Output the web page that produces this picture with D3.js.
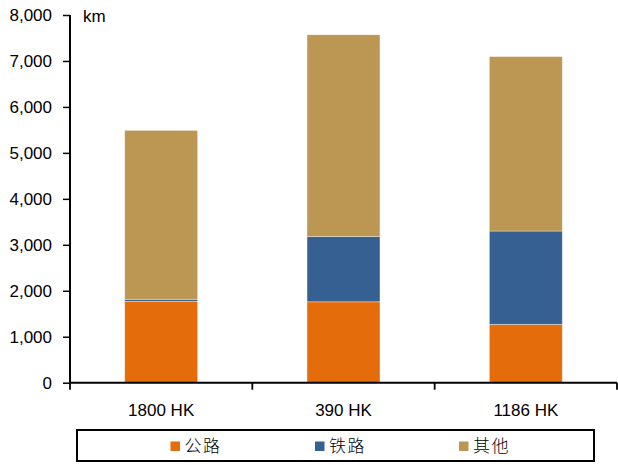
<!DOCTYPE html>
<html>
<head>
<meta charset="utf-8">
<script src="https://cdn.jsdelivr.net/npm/d3@7/dist/d3.min.js"></script>
<style>
  html, body { margin: 0; padding: 0; background: #fff; }
  svg { display: block; }
  text { font-family: "Liberation Sans", Arial, sans-serif; fill: #000; }
</style>
</head>
<body>
<svg id="chart" width="618" height="465"></svg>
<script>
// Route length by mode (km) for three projects
const categories = ["1800 HK", "390 HK", "1186 HK"];
const seriesNames = ["公路", "铁路", "其他"];
const road  = [1770, 1760, 1270];
const rail  = [45, 1420, 2030];
const other = [3675, 4390, 3795];
const yTicks = [0, 1000, 2000, 3000, 4000, 5000, 6000, 7000, 8000];
const colors = ["#E46C0A", "#366092", "#BC9653"];

const svg = d3.select("#chart");
const plotLeft = 70, plotRight = 617, plotTop = 15, plotBottom = 382.7;
const labelSize = 17;

const x = d3.scaleBand().domain(categories).range([plotLeft, plotRight])
  .paddingInner(0.6).paddingOuter(0.3);
const y = d3.scaleLinear().domain([0, 8000]).range([plotBottom, plotTop]);

const rows = categories.map((c, i) => ({ cat: c, road: road[i], rail: rail[i], other: other[i] }));
const stack = d3.stack().keys(["road", "rail", "other"])(rows);

// stacked bars
svg.append("g").selectAll("g").data(stack).join("g")
  .attr("fill", (d, i) => colors[i])
  .selectAll("rect").data(d => d).join("rect")
  .attr("x", d => x(d.data.cat))
  .attr("width", x.bandwidth())
  .attr("y", d => y(d[1]))
  .attr("height", d => y(d[0]) - y(d[1]))
  .attr("stroke", "#ffffff").attr("stroke-opacity", 0.45).attr("stroke-width", 0.8);

// y axis
const yAxis = svg.append("g").attr("transform", `translate(${plotLeft},0)`)
  .call(d3.axisLeft(y).tickValues(yTicks).tickFormat(d3.format(",")).tickSize(7).tickPadding(11));
yAxis.select(".domain").attr("stroke", "#000").attr("stroke-width", 2)
  .attr("d", `M0,${plotTop}V${plotBottom}`);
yAxis.selectAll(".tick line").attr("stroke", "#000").attr("stroke-width", 1.5);
yAxis.selectAll("text").attr("font-size", labelSize).attr("font-family", "Liberation Sans, Arial, sans-serif");

// x axis with ticks at category boundaries
const bounds = d3.range(categories.length + 1)
  .map(i => plotLeft + i * (plotRight - plotLeft) / categories.length);
const xg = svg.append("g");
xg.append("line").attr("x1", plotLeft - 1).attr("x2", plotRight).attr("y1", plotBottom).attr("y2", plotBottom)
  .attr("stroke", "#000").attr("stroke-width", 2);
xg.selectAll("line.tk").data(bounds).join("line").attr("class", "tk")
  .attr("x1", d => d).attr("x2", d => d).attr("y1", plotBottom).attr("y2", plotBottom + 7)
  .attr("stroke", "#000").attr("stroke-width", 1.8);
xg.selectAll("text").data(categories).join("text")
  .attr("x", d => x(d) + x.bandwidth() / 2)
  .attr("y", 416)
  .attr("text-anchor", "middle")
  .attr("font-size", labelSize)
  .text(d => d);

// unit label
svg.append("text").attr("x", 83).attr("y", 22).attr("font-size", labelSize).text("km");

// legend
svg.append("rect").attr("x", 77).attr("y", 430).attr("width", 517).attr("height", 31)
  .attr("fill", "none").attr("stroke", "#000").attr("stroke-width", 2);
const legendX = [170.5, 315, 459];
const lg = svg.append("g").selectAll("g").data(seriesNames).join("g")
  .attr("transform", (d, i) => `translate(${legendX[i]},441.5)`);
lg.append("rect").attr("width", 9.5).attr("height", 9.5).attr("fill", (d, i) => colors[i]);
lg.append("text").attr("x", 14).attr("y", 10.5)
  .attr("font-size", 17).attr("letter-spacing", 1.5)
  .style("font-family", "'Noto Sans CJK SC', sans-serif").style("font-weight", 300)
  .text(d => d);
</script>
</body>
</html>
